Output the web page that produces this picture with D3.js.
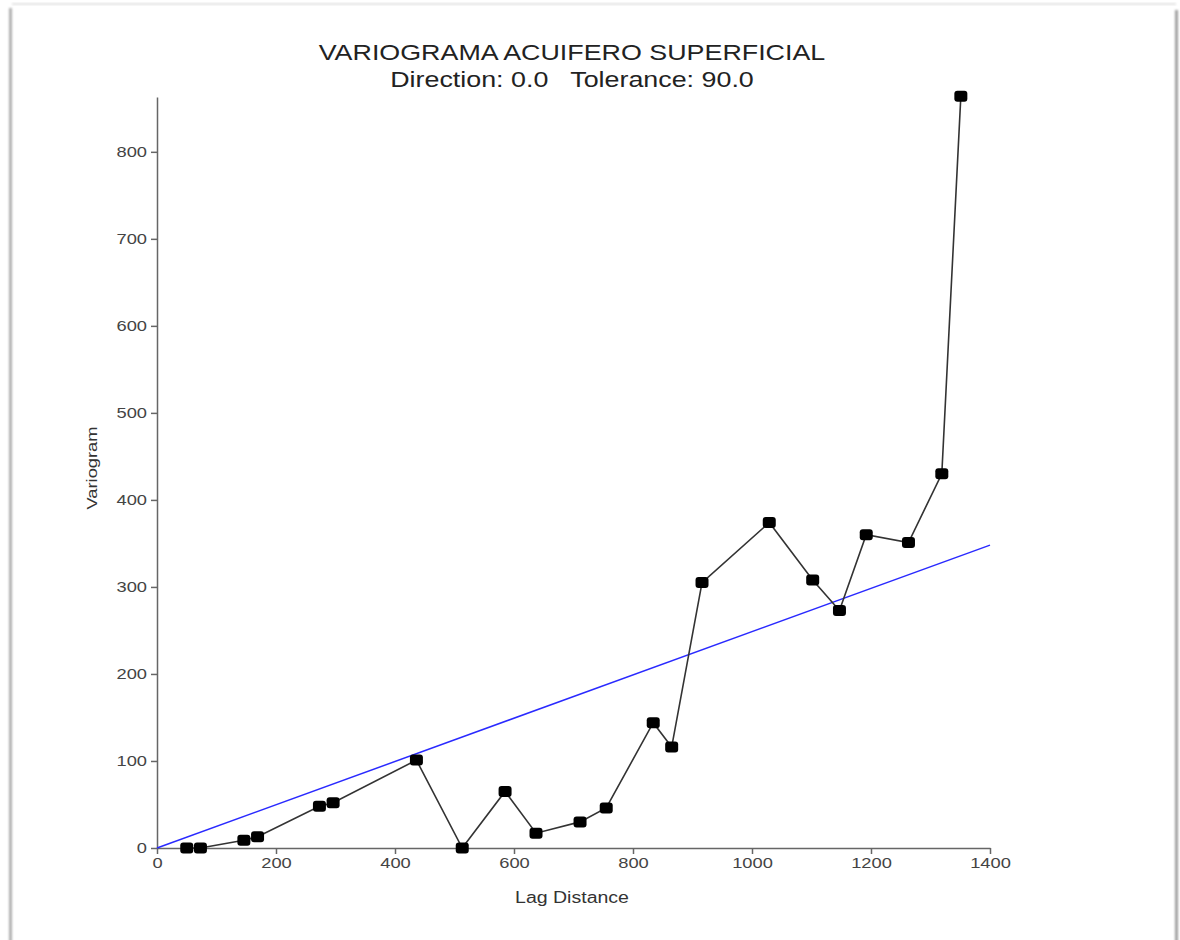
<!DOCTYPE html>
<html>
<head>
<meta charset="utf-8">
<script src="https://cdn.jsdelivr.net/npm/d3@7"></script>
<style>
  body { margin: 0; background: #fff; }
  .axis path, .axis line { stroke: #666; stroke-width: 1.5px; }
  .axis text { fill: #444; font-family: "Liberation Sans", Arial, sans-serif; font-size: 15px; }
</style>
</head>
<body>
<div id="chart"></div>
<script>
// lag distance / variogram pairs
let lags = [50, 73, 146, 169, 273, 296, 436, 513, 585, 637, 711, 755, 834, 865, 916, 1029, 1102, 1147, 1192, 1263, 1319, 1351];
let gammas = [0, 0, 9, 13, 48, 52, 101, 0, 65, 17, 30, 46, 144, 116, 305, 374, 308, 273, 360, 351, 430, 864];
// linear model line
let modelX = [0, 1400];
let modelY = [0, 348];
let xTicks = [0, 200, 400, 600, 800, 1000, 1200, 1400];
let yTicks = [0, 100, 200, 300, 400, 500, 600, 700, 800];

let width = 1180;
let height = 940;
let margin = { top: 97, left: 157, right: 190, bottom: 92 };
let stretch = 1.22; // the source picture is a bit wider than tall

let svg = d3
  .select("#chart")
  .append("svg")
  .attr("width", width)
  .attr("height", height);

/* card with a soft shadow edge */
svg.append("defs")
  .append("filter")
  .attr("id", "blur")
  .attr("x", "-50%").attr("y", "-50%")
  .attr("width", "200%").attr("height", "200%")
  .append("feGaussianBlur")
  .attr("stdDeviation", 1.2);

svg.append("rect").attr("x", 9).attr("y", 8).attr("width", 3).attr("height", 940)
  .attr("fill", "#b0b0b0").attr("filter", "url(#blur)");
svg.append("rect").attr("x", 1175).attr("y", 10).attr("width", 3).attr("height", 940)
  .attr("fill", "#a0a0a0").attr("filter", "url(#blur)");
svg.append("rect").attr("x", 12).attr("y", 3).attr("width", 1164).attr("height", 2)
  .attr("fill", "#e2e2e2").attr("filter", "url(#blur)");

/* Scale */
let xScale = d3.scaleLinear()
  .domain([0, 1400])
  .range([margin.left, width - margin.right]);

let yScale = d3.scaleLinear()
  .domain([0, 863])
  .range([height - margin.bottom, margin.top]);

/* Axes */
let xAxis = d3.axisBottom(xScale).tickValues(xTicks).tickFormat(d3.format("d"))
  .tickSize(6).tickSizeOuter(0).tickPadding(3);
let yAxis = d3.axisLeft(yScale).tickValues(yTicks).tickFormat(d3.format("d"))
  .tickSize(6).tickSizeOuter(0).tickPadding(4);

svg.append("g")
  .attr("class", "x axis")
  .attr("transform", `translate(0, ${yScale(0)})`)
  .call(xAxis);

svg.append("g")
  .attr("class", "y axis")
  .attr("transform", `translate(${xScale(0)}, 0)`)
  .call(yAxis);

/* model line */
svg.append("line")
  .attr("x1", xScale(modelX[0]))
  .attr("y1", yScale(modelY[0]))
  .attr("x2", xScale(modelX[1]))
  .attr("y2", yScale(modelY[1]))
  .attr("stroke", "#2a2aff")
  .attr("stroke-width", 1.5);

/* experimental variogram */
let pts = lags.map((d, i) => ({ lag: d, gamma: gammas[i] }));

let line = d3.line()
  .x(d => xScale(d.lag))
  .y(d => yScale(d.gamma));

svg.append("path")
  .attr("d", line(pts))
  .attr("fill", "none")
  .attr("stroke", "#333")
  .attr("stroke-width", 1.6);

svg.append("g")
  .selectAll("rect")
  .data(pts)
  .enter()
  .append("rect")
  .attr("x", d => xScale(d.lag) - 6.5)
  .attr("y", d => yScale(d.gamma) - 5.5)
  .attr("width", 13)
  .attr("height", 11)
  .attr("rx", 3)
  .attr("fill", "#000");

/* Titles */
let font = "'Liberation Sans', Arial, sans-serif";
svg.append("text")
  .attr("class", "wide")
  .attr("x", 572).attr("y", 60)
  .attr("text-anchor", "middle")
  .style("font-family", font)
  .style("font-size", "22px")
  .style("fill", "#222")
  .text("VARIOGRAMA ACUIFERO SUPERFICIAL");

svg.append("text")
  .attr("class", "wide")
  .attr("x", 572).attr("y", 87)
  .attr("text-anchor", "middle")
  .style("white-space", "pre")
  .style("font-family", font)
  .style("font-size", "22px")
  .style("fill", "#222")
  .text("Direction: 0.0   Tolerance: 90.0");

svg.append("text")
  .attr("class", "wide")
  .attr("x", 572).attr("y", 903)
  .attr("text-anchor", "middle")
  .style("font-family", font)
  .style("font-size", "16px")
  .style("fill", "#333")
  .text("Lag Distance");

svg.append("text")
  .attr("class", "wide")
  .attr("transform", "translate(97, 468) rotate(-90)")
  .attr("text-anchor", "middle")
  .style("font-family", font)
  .style("font-size", "15px")
  .style("fill", "#333")
  .text("Variogram");

// widen every text the same way the source picture is widened
svg.selectAll(".wide, .axis text").each(function() {
  let w = this.getComputedTextLength();
  d3.select(this)
    .attr("textLength", w * stretch)
    .attr("lengthAdjust", "spacingAndGlyphs");
});
</script>
</body>
</html>
